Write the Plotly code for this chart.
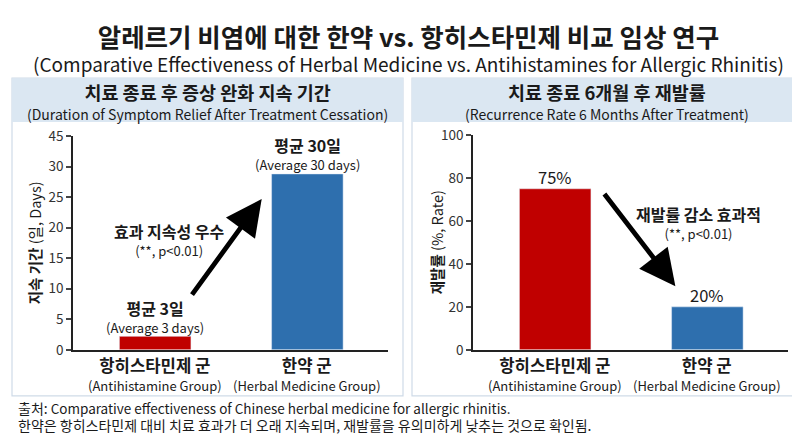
import plotly.graph_objects as go

# data
groups = ['항히스타민제 군', '한약 군']
groups_en = ['(Antihistamine Group)', '(Herbal Medicine Group)']
duration_days = [2.2, 28.8]
duration_labels = ['평균 3일', '평균 30일']
duration_labels_en = ['(Average 3 days)', '(Average 30 days)']
duration_ticks = [0, 5, 10, 15, 20, 25, 30, 35]
duration_ticktext = ['0', '5', '10', '15', '20', '25', '30', '45']
recurrence_pct = [75, 20]
recurrence_labels = ['75%', '20%']

RED = '#c00000'
BLUE = '#2e6fae'
FONT = 'Noto Sans CJK KR, Noto Sans, sans-serif'
NARROW = 'Liberation Sans Narrow, Noto Sans CJK KR, sans-serif'
W, H = 800, 436


def px(x):
    return x / W


def py(y):
    return 1 - y / H


def sz(s, size, bold=False, family=None):
    if bold:
        s = f'<b>{s}</b>'
    fam = f'font-family:{family};' if family else ''
    return f'<span style="font-size:{size}px;{fam}">{s}</span>'


fig = go.Figure()
fig.add_trace(go.Bar(x=[0, 1], y=duration_days, marker_color=[RED, BLUE], width=0.47,
                     xaxis='x', yaxis='y', showlegend=False, hoverinfo='skip'))
fig.add_trace(go.Bar(x=[0, 1], y=recurrence_pct, marker_color=[RED, BLUE], width=0.47,
                     xaxis='x2', yaxis='y2', showlegend=False, hoverinfo='skip'))

axis_common = dict(showline=True, linecolor='#222', linewidth=1.5, zeroline=False, showgrid=False)
fig.update_layout(
    width=W, height=H, margin=dict(l=0, r=0, t=0, b=0),
    paper_bgcolor='white', plot_bgcolor='rgba(0,0,0,0)',
    font=dict(family=FONT, color='#222'),
    xaxis=dict(domain=[px(65), px(380)], range=[-0.54, 1.53], showticklabels=False, ticks='',
               anchor='y', **axis_common),
    yaxis=dict(domain=[py(346.7), py(122.7)], range=[0, 35], tickvals=duration_ticks,
               ticktext=duration_ticktext, ticks='outside', ticklen=5, tickwidth=1.5,
               tickfont=dict(size=13.5, color='#333'), anchor='x', **axis_common),
    xaxis2=dict(domain=[px(465), px(780)], range=[-0.54, 1.53], showticklabels=False, ticks='',
                anchor='y2', **axis_common),
    yaxis2=dict(domain=[py(346.7), py(121.7)], range=[0, 100], tickvals=[0, 20, 40, 60, 80, 100],
                ticks='outside', ticklen=5, tickwidth=1.5,
                tickfont=dict(size=13.5, color='#333'), anchor='x2', **axis_common),
)

# panels with light blue header bands
shapes = []
for x0, x1 in [(4, 395), (404, 793)]:
    shapes.append(dict(type='rect', xref='paper', yref='paper', x0=px(x0), x1=px(x1),
                       y0=py(395), y1=py(62), line=dict(color='#cfdbe8', width=1.2),
                       fillcolor='white', layer='below'))
    shapes.append(dict(type='rect', xref='paper', yref='paper', x0=px(x0), x1=px(x1),
                       y0=py(108), y1=py(62), line=dict(width=0),
                       fillcolor='#dbe7f2', layer='below'))
fig.update_layout(shapes=shapes)

ann = []


def text(x, y, s, size, xref='paper', yref='paper', **kw):
    ann.append(dict(x=x, y=y, xref=xref, yref=yref, text=s, showarrow=False,
                    font=dict(size=size, family=FONT, color='#1a1a1a'),
                    xanchor=kw.pop('xanchor', 'center'), yanchor=kw.pop('yanchor', 'middle'), **kw))


# titles
text(0.5, py(29.5), sz('알레르기 비염에 대한 한약 vs. 항히스타민제 비교 임상 연구', 25.5, True) + '<br>'
     + sz('(Comparative Effectiveness of Herbal Medicine vs. Antihistamines for Allergic Rhinitis)', 19), 19.2)
text(px(199.5), py(86.5), sz('치료 종료 후 증상 완화 지속 기간', 18.5, True) + '<br>'
     + sz('(Duration of Symptom Relief After Treatment Cessation)', 14), 15)
text(px(598.5), py(86.5), sz('치료 종료 6개월 후 재발률', 18.5, True) + '<br>'
     + sz('(Recurrence Rate 6 Months After Treatment)', 14), 15)

# axis titles
text(px(26), py(235), '<b>지속 기간</b> (일, Days)', 14.5, textangle=-90)
text(px(428), py(234), '<b>재발률</b> (%, Rate)', 14.5, textangle=-90)

# category labels
for xa in ['x', 'x2']:
    for i in range(2):
        text(i, py(372.5), sz(groups[i], 16.7, True) + '<br>' + sz(groups_en[i], 13), 14.5, xref=xa)

# value labels
for i in range(2):
    text(i, duration_days[i], sz(duration_labels[i], 16, True) + '<br>' + sz(duration_labels_en[i], 13),
         14, xref='x', yref='y', yshift=20)
    text(i, recurrence_pct[i], recurrence_labels[i], 16.5, xref='x2', yref='y2', yshift=12)

# significance notes
text(0.097, 18.1, sz('효과 지속성 우수', 16, True) + '<br>' + sz('(**, p<0.01)', 13), 13.5,
     xref='x', yref='y')
text(0.94, 59.5, sz('재발률 감소 효과적', 16, True) + '<br>' + sz('(**, p<0.01)', 13), 13.5,
     xref='x2', yref='y2')

# arrows
ann.append(dict(x=0.70, y=24.7, ax=0.235, ay=8.8, xref='x', yref='y', axref='x', ayref='y',
                showarrow=True, arrowhead=2, arrowsize=1.5, arrowwidth=4.8, arrowcolor='black', text=''))
ann.append(dict(x=0.79, y=29.6, ax=0.316, ay=73.3, xref='x2', yref='y2', axref='x2', ayref='y2',
                showarrow=True, arrowhead=2, arrowsize=1.5, arrowwidth=4.8, arrowcolor='black', text=''))

# footer
text(px(8), py(417), sz('출처:', 14) + sz(' Comparative effectiveness of Chinese herbal medicine for allergic rhinitis.', 13.5, family=NARROW)
     + '<br>' + sz('한약은 항히스타민제 대비 치료 효과가 더 오래 지속되며, 재발률을 유의미하게 낮추는 것으로 확인됨.', 14),
     13, xanchor='left', align='left')

fig.update_layout(annotations=ann)
fig.write_html('out.html')
